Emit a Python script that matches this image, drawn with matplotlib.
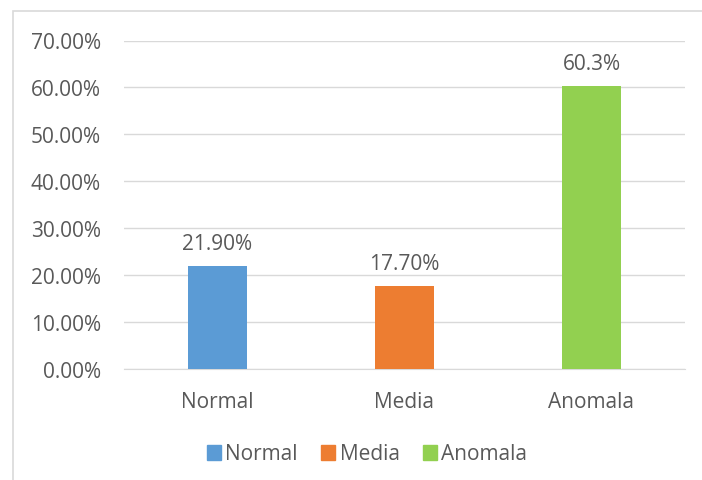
import matplotlib.pyplot as plt
from matplotlib.patches import Rectangle
from matplotlib.ticker import FuncFormatter

categories = ['Normal', 'Media', 'Anomala']
values = [0.219, 0.177, 0.603]
bar_labels = ['21.90%', '17.70%', '60.3%']
colors = ['#5B9BD5', '#ED7D31', '#92D050']

plt.rcParams['font.family'] = ['Open Sans', 'DejaVu Sans']
txt = '#595959'
fs = 15

fig = plt.figure(figsize=(7.02, 4.81), dpi=100)
# chart border
fig.patches.append(Rectangle((13 / 702, -0.1), 1.0, 1 - 12 / 481 + 0.1,
                             transform=fig.transFigure, fill=False,
                             edgecolor='#D9D9D9', linewidth=1.2))

ax = fig.add_axes([124 / 702, 111 / 481, 561 / 702, 328.5 / 481])
x = range(len(categories))
bars = ax.bar(x, values, width=0.32, color=colors, zorder=3)
for b, lab in zip(bars, bar_labels):
    ax.text(b.get_x() + b.get_width() / 2, b.get_height() + 0.026, lab,
            ha='center', va='bottom', fontsize=fs, color=txt)

ax.set_xlim(-0.5, 2.5)
ax.set_ylim(0, 0.70)
ax.set_yticks([i / 10 for i in range(8)])
ax.yaxis.set_major_formatter(FuncFormatter(lambda v, p: '%.2f%%' % (v * 100)))
ax.set_xticks(list(x))
ax.set_xticklabels(categories)
ax.tick_params(axis='both', length=0, labelsize=fs, colors=txt)
ax.tick_params(axis='x', pad=16)
ax.tick_params(axis='y', pad=16.5)
ax.grid(axis='y', color='#D9D9D9', linewidth=1, zorder=0)
for s in ['top', 'right', 'left']:
    ax.spines[s].set_visible(False)
ax.spines['bottom'].set_color('#D9D9D9')

handles = [Rectangle((0, 0), 1, 1, color=c) for c in colors]
fig.legend(handles, categories, loc='center', bbox_to_anchor=(367 / 702, 1 - 455 / 481),
           ncol=3, frameon=False, fontsize=fs, handlelength=0.7, handleheight=0.7,
           handletextpad=0.2, columnspacing=1.1, labelcolor=txt)

fig.savefig('out.png', dpi=100)
